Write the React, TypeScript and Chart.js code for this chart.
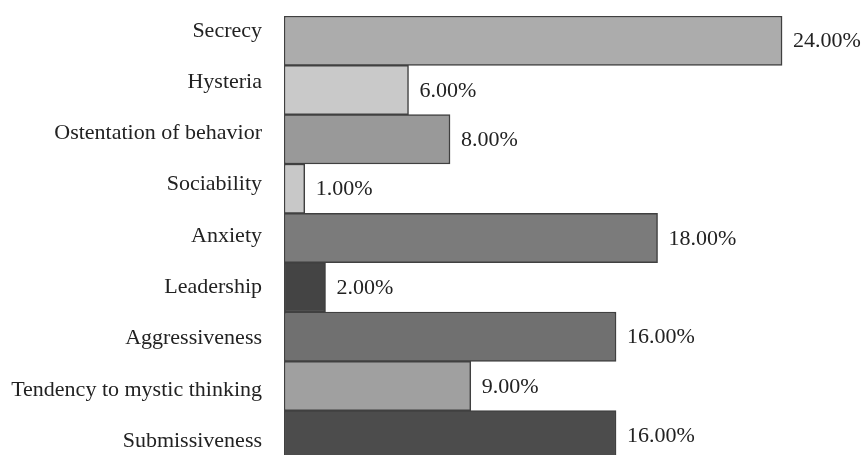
import React, { useEffect, useRef } from "react";
import { Chart, registerables } from "chart.js";

Chart.register(...registerables);

const categories = [
  "Secrecy",
  "Hysteria",
  "Ostentation of behavior",
  "Sociability",
  "Anxiety",
  "Leadership",
  "Aggressiveness",
  "Tendency to mystic thinking",
  "Submissiveness",
];
const values = [24, 6, 8, 1, 18, 2, 16, 9, 16];
const barColors = [
  "#acacac",
  "#c9c9c9",
  "#999999",
  "#c8c8c8",
  "#7b7b7b",
  "#444444",
  "#707070",
  "#a0a0a0",
  "#4c4c4c",
];

const FONT = "'Liberation Serif', 'DejaVu Serif', serif";
const LABEL_MIN = -0.29;
const LABEL_MAX = 8.37;

const valueLabels = {
  id: "valueLabels",
  afterDatasetsDraw(chart: any) {
    const ctx = chart.ctx;
    const meta = chart.getDatasetMeta(0);
    ctx.save();
    ctx.font = `22px ${FONT}`;
    ctx.fillStyle = "#222222";
    ctx.textAlign = "left";
    ctx.textBaseline = "middle";
    meta.data.forEach((bar: any, i: number) => {
      const v = chart.data.datasets[0].data[i];
      ctx.fillText(v.toFixed(2) + "%", bar.x + 11, bar.y + 1);
    });
    ctx.restore();
  },
};

export default function App() {
  const ref = useRef<HTMLCanvasElement | null>(null);
  useEffect(() => {
    if (!ref.current) return;
    const chart = new Chart(ref.current, {
      type: "bar",
      data: {
        labels: categories,
        datasets: [
          {
            data: values,
            backgroundColor: barColors,
            borderColor: "#404040",
            borderWidth: 1.5,
            borderSkipped: false,
            barPercentage: 1,
            categoryPercentage: 1,
          },
        ],
      },
      options: {
        indexAxis: "y",
        animation: false,
        responsive: false,
        maintainAspectRatio: false,
        layout: { padding: { top: 16, right: 0, bottom: 0, left: 0 } },
        plugins: {
          legend: { display: false },
          tooltip: { enabled: false },
        },
        scales: {
          x: { display: false, min: 0, max: 27.9 },
          y: {
            display: false,
            afterFit: (scale: any) => {
              scale.paddingTop = 0;
              scale.paddingBottom = 0;
            },
          },
          yl: {
            type: "linear",
            position: "left",
            reverse: true,
            offset: false,
            bounds: "data",
            min: LABEL_MIN,
            max: LABEL_MAX,
            grid: { display: false, drawTicks: false, offset: false },
            border: { display: false },
            afterBuildTicks: (scale: any) => {
              scale.min = LABEL_MIN;
              scale.max = LABEL_MAX;
              scale.ticks = categories.map((_, i) => ({ value: i }));
            },
            ticks: {
              autoSkip: false,
              padding: 22,
              color: "#222222",
              font: { family: FONT, size: 22 },
              callback: (v: any) => categories[Math.round(Number(v))] ?? "",
            },
            afterFit: (scale: any) => {
              scale.width = 284;
              scale.paddingTop = 0;
              scale.paddingBottom = 0;
            },
          },
        },
      },
      plugins: [valueLabels],
    });
    return () => chart.destroy();
  }, []);
  return (
    <div style={{ position: "absolute", left: 0, top: 0, width: 863, height: 460, overflow: "hidden", background: "#fff" }}>
      <canvas ref={ref} width={863} height={460} style={{ display: "block" }} />
    </div>
  );
}
